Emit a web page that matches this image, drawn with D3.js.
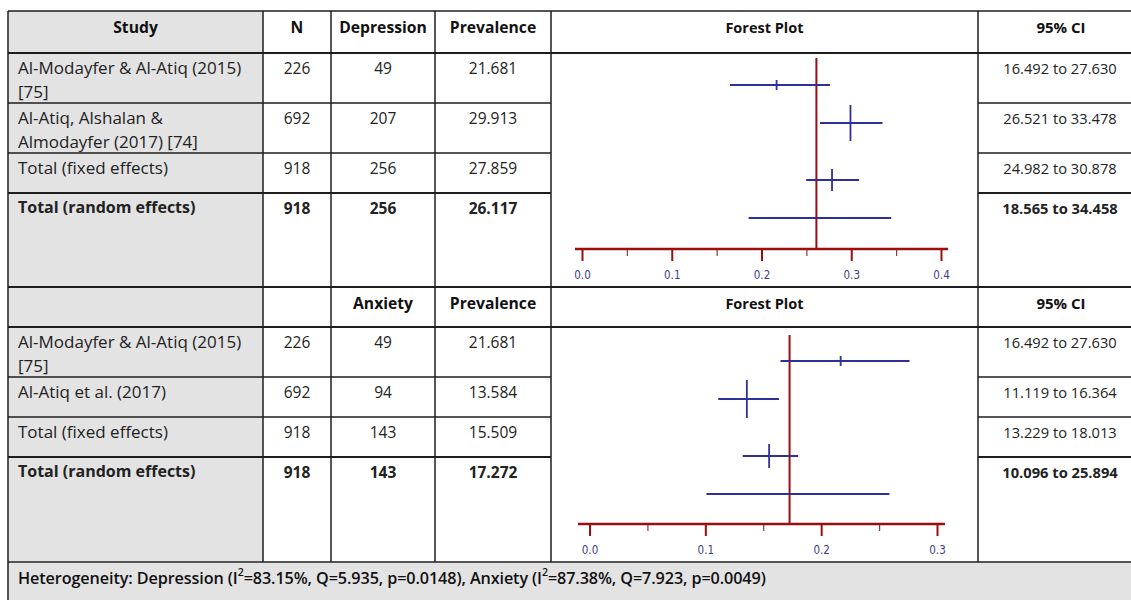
<!DOCTYPE html>
<html>
<head>
<meta charset="utf-8">
<script src="https://cdn.jsdelivr.net/npm/d3@7"></script>
<style>
  body { margin: 0; background: #fff; }
  text { font-family: "Open Sans", "Noto Sans", sans-serif; }
</style>
</head>
<body>
<script>
// table values
var depStudy = [["Al-Modayfer & Al-Atiq (2015)", "[75]"], ["Al-Atiq, Alshalan &", "Almodayfer (2017) [74]"], ["Total (fixed effects)"], ["Total (random effects)"]];
var depN = [226, 692, 918, 918];
var depCases = [49, 207, 256, 256];
var depPrev = [21.681, 29.913, 27.859, 26.117];
var depLow = [16.492, 26.521, 24.982, 18.565];
var depHigh = [27.630, 33.478, 30.878, 34.458];
var depTicks = [0, 0.1, 0.2, 0.3, 0.4];

var anxStudy = [["Al-Modayfer & Al-Atiq (2015)", "[75]"], ["Al-Atiq et al. (2017)"], ["Total (fixed effects)"], ["Total (random effects)"]];
var anxN = [226, 692, 918, 918];
var anxCases = [49, 94, 143, 143];
var anxPrev = [21.681, 13.584, 15.509, 17.272];
var anxLow = [16.492, 11.119, 13.229, 10.096];
var anxHigh = [27.630, 16.364, 18.013, 25.894];
var anxTicks = [0, 0.1, 0.2, 0.3];

var depHeaders = ["Study", "N", "Depression", "Prevalence", "Forest Plot", "95% CI"];
var anxHeaders = ["", "", "Anxiety", "Prevalence", "Forest Plot", "95% CI"];

var hetDep = {i2: "83.15%", q: "5.935", p: "0.0148"};
var hetAnx = {i2: "87.38%", q: "7.923", p: "0.0049"};

// page size
var svgWidth = 1131;
var svgHeight = 600;

var svg = d3.select("body")
  .append("svg")
  .attr("width", svgWidth)
  .attr("height", svgHeight);

// column edges
var colX = [8, 263, 331, 435, 551, 978, 1145];
var gray = "#e3e3e3";
var lineCol = "#1e1e1e";
var blue = "#2f2f9c";
var red = "#9b0e0e";

var sections = [
  {headTop: 11, rowTops: [53, 103, 153, 193], bottom: 287, headers: depHeaders,
   study: depStudy, n: depN, cases: depCases, prev: depPrev, low: depLow, high: depHigh, ticks: depTicks,
   xRange: [582, 941], axisExt: [575, 948], redTop: 58, firstY: 85, axisY: 249, marker: [5, 18, 11, 0]},
  {headTop: 287, rowTops: [327, 377, 417, 457], bottom: 562, headers: anxHeaders,
   study: anxStudy, n: anxN, cases: anxCases, prev: anxPrev, low: anxLow, high: anxHigh, ticks: anxTicks,
   xRange: [589.5, 937], axisExt: [578, 945], redTop: 335, firstY: 361, axisY: 524, marker: [5, 19, 12, 0]}
];

// gray backgrounds (study column + footer)
sections.forEach(function(s) {
  svg.append("rect")
    .attr("x", colX[0]).attr("y", s.headTop)
    .attr("width", colX[1] - colX[0]).attr("height", s.bottom - s.headTop)
    .attr("fill", gray);
});
svg.append("rect")
  .attr("x", colX[0]).attr("y", 562)
  .attr("width", svgWidth).attr("height", 60)
  .attr("fill", gray);

sections.forEach(function(s) {
  var g = svg.append("g");

  // header texts
  var headY = s.headTop + 16;
  s.headers.forEach(function(h, i) {
    var size = i == 4 ? "14.5px" : i == 5 ? "15px" : "15.7px";
    g.append("text")
      .attr("x", i == 5 ? 1061 : (colX[i] + colX[i + 1]) / 2)
      .attr("y", headY)
      .attr("text-anchor", "middle")
      .attr("dominant-baseline", "central")
      .attr("font-size", size)
      .attr("font-weight", "bold")
      .attr("fill", "#111")
      .text(h);
  });

  // rows
  s.study.forEach(function(lines, r) {
    var top = s.rowTops[r];
    var bold = r == 3;
    var ty = top + 15;
    lines.forEach(function(l, k) {
      g.append("text")
        .attr("x", 18)
        .attr("y", ty - 1 + k * 24)
        .attr("dominant-baseline", "central")
        .attr("font-size", bold ? "16px" : "17px")
        .attr("font-weight", bold ? "bold" : "normal")
        .attr("fill", "#222")
        .text(l);
    });
    var vals = [s.n[r], s.cases[r], s.prev[r].toFixed(3)];
    vals.forEach(function(v, c) {
      g.append("text")
        .attr("x", (colX[c + 1] + colX[c + 2]) / 2)
        .attr("y", ty)
        .attr("text-anchor", "middle")
        .attr("dominant-baseline", "central")
        .attr("font-size", "15.5px")
        .attr("font-weight", bold ? "bold" : "normal")
        .attr("fill", "#222")
        .text(v);
    });
    g.append("text")
      .attr("x", 1060)
      .attr("y", ty)
      .attr("text-anchor", "middle")
      .attr("dominant-baseline", "central")
      .attr("font-size", "14.7px")
      .attr("font-weight", bold ? "bold" : "normal")
      .attr("fill", "#222")
      .text(s.low[r].toFixed(3) + " to " + s.high[r].toFixed(3));
  });

  // forest plot
  var x = d3.scaleLinear().domain([0, s.ticks[s.ticks.length - 1]]).range(s.xRange);
  var rowY = function(i) { return s.firstY + (i < 2 ? i : i + 0.5) * 38; };

  var minor = d3.range(0.05, s.ticks[s.ticks.length - 1], 0.1);
  var minorAxis = d3.axisBottom(x).tickValues(minor).tickSize(7).tickSizeOuter(0).tickFormat("");
  var majorAxis = d3.axisBottom(x).tickValues(s.ticks).tickSize(12).tickSizeOuter(0).tickPadding(10)
    .tickFormat(d3.format(".1f"));

  var ag = g.append("g").attr("transform", "translate(0," + s.axisY + ")").call(minorAxis);
  ag.select(".domain").remove();
  ag.selectAll("line").attr("stroke", "#8a3a3a").attr("stroke-width", 1.2);

  var mg = g.append("g").attr("transform", "translate(0," + s.axisY + ")").call(majorAxis);
  mg.select(".domain").remove();
  mg.selectAll("line").attr("stroke", red).attr("stroke-width", 2);
  mg.selectAll("text")
    .attr("fill", "#3c3c8c")
    .attr("font-size", "11.5px")
    .style("font-family", "'DejaVu Sans Condensed', 'Liberation Sans', sans-serif");

  g.append("line")
    .attr("x1", s.axisExt[0]).attr("x2", s.axisExt[1])
    .attr("y1", s.axisY).attr("y2", s.axisY)
    .attr("stroke", red).attr("stroke-width", 2.5);

  // reference line at random effects estimate
  var pooled = s.prev[3] / 100;
  g.append("line")
    .attr("x1", x(pooled)).attr("x2", x(pooled))
    .attr("y1", s.redTop).attr("y2", s.axisY)
    .attr("stroke", red).attr("stroke-width", 2);

  // CI lines
  g.selectAll(".ci")
    .data(s.prev)
    .enter()
    .append("line")
    .attr("x1", (d, i) => x(s.low[i] / 100))
    .attr("x2", (d, i) => x(s.high[i] / 100))
    .attr("y1", (d, i) => rowY(i))
    .attr("y2", (d, i) => rowY(i))
    .attr("stroke", blue)
    .attr("stroke-width", 2);

  g.selectAll(".pt")
    .data(s.prev)
    .enter()
    .append("line")
    .attr("x1", d => x(d / 100))
    .attr("x2", d => x(d / 100))
    .attr("y1", (d, i) => rowY(i) - s.marker[i])
    .attr("y2", (d, i) => rowY(i) + s.marker[i])
    .attr("stroke", blue)
    .attr("stroke-width", 1.8);
});

// grid lines
var hLines = [11, 53, 103, 153, 193, 287, 327, 377, 417, 457, 562];
hLines.forEach(function(y) {
  var thick = y == 53 || y == 193 || y == 287 || y == 327 || y == 457 || y == 562;
  var x2 = svgWidth + 10;
  // rows in the forest plot column are merged
  if ([103, 153, 193, 377, 417, 457].indexOf(y) >= 0) {
    svg.append("line").attr("x1", colX[0]).attr("x2", colX[4]).attr("y1", y).attr("y2", y)
      .attr("stroke", lineCol).attr("stroke-width", thick ? 2 : 1.5);
    svg.append("line").attr("x1", colX[5]).attr("x2", x2).attr("y1", y).attr("y2", y)
      .attr("stroke", lineCol).attr("stroke-width", thick ? 2 : 1.5);
  } else {
    svg.append("line").attr("x1", colX[0]).attr("x2", x2).attr("y1", y).attr("y2", y)
      .attr("stroke", y == 562 ? "#555" : lineCol).attr("stroke-width", thick ? 2 : 1.5);
  }
});
colX.slice(0, 6).forEach(function(cx) {
  svg.append("line").attr("x1", cx).attr("x2", cx).attr("y1", 11).attr("y2", cx == colX[0] ? svgHeight : 562)
    .attr("stroke", lineCol).attr("stroke-width", 1.5);
});

// footer
var foot = svg.append("text")
  .attr("x", 18)
  .attr("y", 578)
  .attr("dominant-baseline", "central")
  .attr("font-size", "16.2px")
  .attr("font-weight", "600")
  .attr("letter-spacing", "-0.1px")
  .attr("fill", "#111");
function hetParts(name, h, last) {
  foot.append("tspan").text(name + " (I");
  foot.append("tspan").attr("font-size", "10.5px").attr("dy", -6).text("2");
  foot.append("tspan").attr("dy", 6).text("=" + h.i2 + ", Q=" + h.q + ", p=" + h.p + ")" + (last ? "" : ", "));
}
foot.append("tspan").text("Heterogeneity: ");
hetParts("Depression", hetDep, false);
hetParts("Anxiety", hetAnx, true);
</script>
</body>
</html>
